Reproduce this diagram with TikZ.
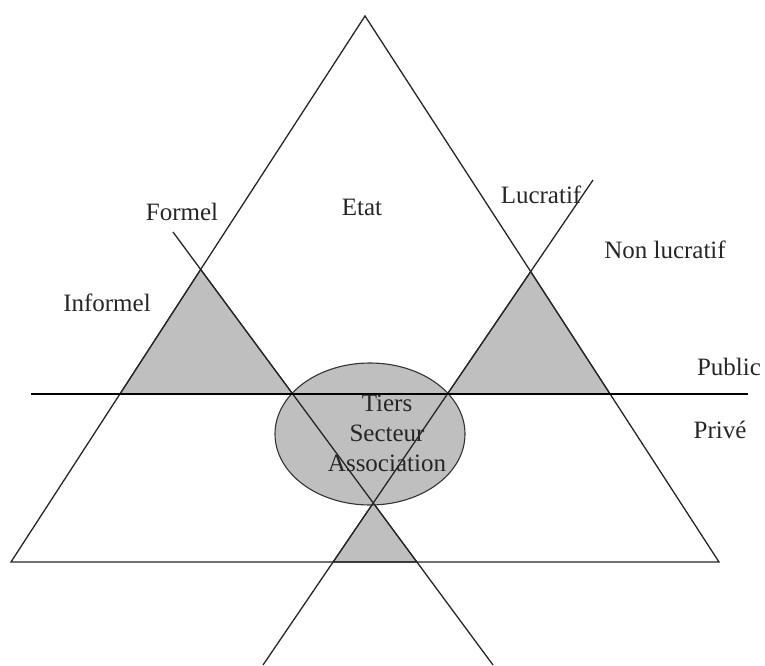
\documentclass[tikz,border=0pt]{standalone}
\usepackage{fontspec}
\setmainfont{Liberation Serif}
\usetikzlibrary{shapes.geometric}
\begin{document}
\begin{tikzpicture}[x=1pt,y=-1pt,
  edge/.style={draw=black!85, line width=1.3pt},
  hline/.style={draw=black, line width=2pt},
  zone/.style={fill=black!25, draw=black!85, line width=1.1pt, line join=round},
  lbl/.style={font=\fontsize{25}{30}\selectfont, text=black!85, inner sep=0pt, anchor=center}]
\useasboundingbox (0,0) rectangle (765,666);
% key points
\coordinate (A) at (365,16);
\coordinate (B) at (11,562);
\coordinate (C) at (719,562);
\coordinate (D1) at (173,232);
\coordinate (D2) at (493,665);
\coordinate (U1) at (263,665);
\coordinate (U2) at (593,180);
\coordinate (H1) at (31,394);
\coordinate (H2) at (748,394);
% intersections
\coordinate (La) at (intersection of D1--D2 and A--B);
\coordinate (Lb) at (intersection of A--B and H1--H2);
\coordinate (Lc) at (intersection of D1--D2 and H1--H2);
\coordinate (Ra) at (intersection of U1--U2 and A--C);
\coordinate (Rb) at (intersection of U1--U2 and H1--H2);
\coordinate (Rc) at (intersection of A--C and H1--H2);
\coordinate (Ba) at (intersection of D1--D2 and U1--U2);
\coordinate (Bb) at (intersection of U1--U2 and B--C);
\coordinate (Bc) at (intersection of D1--D2 and B--C);
% gray zones
\path[zone] (La) -- (Lb) -- (Lc) -- cycle;
\path[zone] (Ra) -- (Rb) -- (Rc) -- cycle;
\path[zone] (Ba) -- (Bb) -- (Bc) -- cycle;
\node[ellipse, draw=black!80, fill=black!25, line width=1.1pt, minimum width=190pt, minimum height=142pt, inner sep=0pt] (ell) at (370,434) {};
% lines
\draw[edge, line join=miter] (A) -- (B) -- (C) -- cycle;
\draw[edge] (D1) -- (D2);
\draw[edge] (U1) -- (U2);
\draw[hline] (H1) -- (H2);
% labels
\node[lbl] (etat) at (362,207) {Etat};
\node[lbl] (formel) at (182,212) {Formel};
\node[lbl] (informel) at (107,303) {Informel};
\node[lbl] (lucratif) at (541,195) {Lucratif};
\node[lbl] (nonluc) at (665,250) {Non lucratif};
\node[lbl] (public) at (729,367) {Public};
\node[lbl] (prive) at (720,430) {Privé};
\node[lbl, align=center] (tiers) at (387,433) {Tiers\\Secteur\\Association};
\end{tikzpicture}
\end{document}
